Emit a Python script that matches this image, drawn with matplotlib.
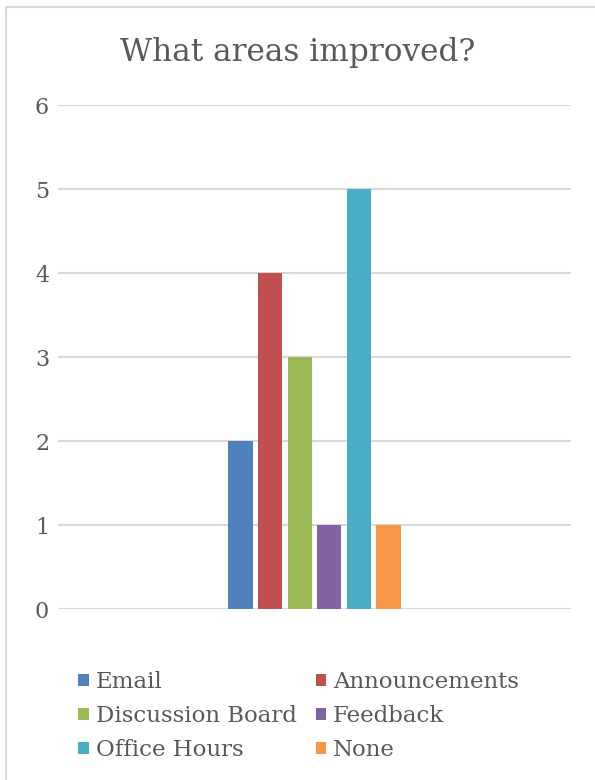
import matplotlib.pyplot as plt
from matplotlib.patches import Rectangle

categories = ["Email", "Announcements", "Discussion Board", "Feedback", "Office Hours", "None"]
counts = [2, 4, 3, 1, 5, 1]
colors = ["#4f81bd", "#c0504d", "#9bbb59", "#8064a2", "#4bacc6", "#f79646"]
yticks = [0, 1, 2, 3, 4, 5, 6]

plt.rcParams['font.family'] = ['DejaVu Serif']
text_color = "#595959"
grid_color = "#d9d9d9"

fig = plt.figure(figsize=(5.95, 7.8), dpi=100)
fig.patches.append(Rectangle((6 / 595, -0.1), 1.2, 1 - 7 / 780 + 0.1,
                             transform=fig.transFigure, fill=False,
                             edgecolor=grid_color, linewidth=1.5))

ax = fig.add_axes([58 / 595, 1 - 609 / 780, 513 / 595, 504 / 780])

slot = 0.0577
width = 0.0468
bars = []
for i, (name, val, col) in enumerate(zip(categories, counts, colors)):
    bars.append(ax.bar((i - 2.5) * slot, val, width=width, color=col, label=name, zorder=3))

ax.set_xlim(-0.5, 0.5)
ax.set_ylim(0, 6)
ax.set_yticks(yticks)
ax.set_yticklabels([str(t) for t in yticks])
ax.set_xticks([])
ax.tick_params(axis='y', length=0, labelsize=16, labelcolor=text_color)
for t in ax.get_yticklabels():
    t.set_horizontalalignment('center')
ax.yaxis.set_tick_params(pad=11.5)
ax.grid(axis='y', color=grid_color, linewidth=1.5, zorder=0)
for s in ax.spines.values():
    s.set_visible(False)

fig.text(0.5, 1 - 53 / 780, "What areas improved?", ha='center', va='center',
         fontsize=22.5, color=text_color)

# legend fills column-first, so reorder to read row by row
order = [0, 2, 4, 1, 3, 5]
leg = fig.legend([bars[i] for i in order], [categories[i] for i in order],
                 loc='center', bbox_to_anchor=(0.502, 1 - 716 / 780), ncol=2,
                 frameon=False, fontsize=16.5, handlelength=0.45, handleheight=0.45,
                 handletextpad=0.3, columnspacing=0.85, labelspacing=0.53)
for t in leg.get_texts():
    t.set_color(text_color)

fig.savefig("out.png", dpi=100)
